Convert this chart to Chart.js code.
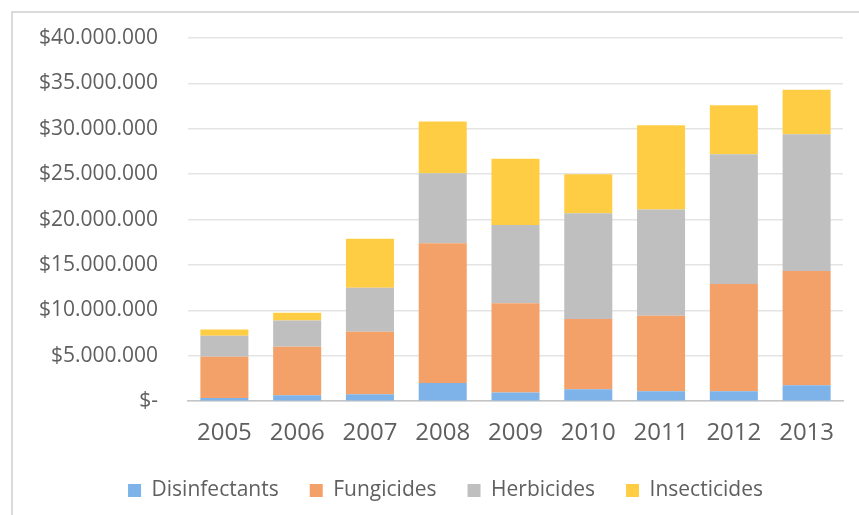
<!DOCTYPE html>
<html>
<head>
<meta charset="utf-8">
<script src="https://cdn.jsdelivr.net/npm/chart.js@4"></script>
<style>
  body { margin: 0; background: #fff; }
  #frame { position: absolute; left: 11px; top: 11px; width: 860px; height: 520px;
           border-top: 2px solid #dadada; border-left: 2px solid #dadada; }
  #wrap { position: absolute; left: 0; top: 0; width: 859px; height: 515px; }
</style>
</head>
<body>
<div id="frame"></div>
<div id="wrap"><canvas id="chart"></canvas></div>
<script>
var years = ["2005", "2006", "2007", "2008", "2009", "2010", "2011", "2012", "2013"];
var disinfectants = [350000, 660000, 770000, 2000000, 960000, 1320000, 1100000, 1100000, 1770000];
var fungicides = [4550000, 5340000, 6880000, 15400000, 9840000, 7730000, 8300000, 11800000, 12580000];
var herbicides = [2300000, 2900000, 4850000, 7700000, 8600000, 11650000, 11700000, 14300000, 15050000];
var insecticides = [700000, 850000, 5400000, 5700000, 7300000, 4300000, 9300000, 5400000, 4900000];

var textColor = "#5f5f5f";

function money(v) {
    if (v === 0) return "$-";
    return "$" + v.toString().replace(/\B(?=(\d{3})+(?!\d))/g, ".");
}

function series(label, data, color) {
    return {
        label: label,
        data: data,
        backgroundColor: color,
        borderWidth: 0,
        categoryPercentage: 1,
        barPercentage: 0.66
    };
}

// legend sits closer to the axis labels than its padding allows, and a bit right of centre
var moveLegend = {
    id: "moveLegend",
    afterLayout: function (chart) {
        chart.legend.top -= 17;
        chart.legend.bottom -= 17;
        chart.legend.left += 24;
        chart.legend.right += 24;
    }
};

var ctx = document.getElementById("chart").getContext("2d");
new Chart(ctx, {
    type: "bar",
    data: {
        labels: years,
        datasets: [
            series("Disinfectants", disinfectants, "#7db3e8"),
            series("Fungicides", fungicides, "#f3a168"),
            series("Herbicides", herbicides, "#bfbfbf"),
            series("Insecticides", insecticides, "#ffcd44")
        ]
    },
    plugins: [moveLegend],
    options: {
        responsive: true,
        maintainAspectRatio: false,
        animation: false,
        layout: { padding: { left: 0, right: 16, top: 38, bottom: -13 } },
        plugins: {
            tooltip: { enabled: false },
            legend: {
                position: "bottom",
                labels: {
                    color: textColor,
                    font: { family: "Open Sans", size: 21 },
                    boxWidth: 13,
                    boxHeight: 13,
                    padding: 31
                }
            }
        },
        scales: {
            x: {
                stacked: true,
                grid: { display: false, drawTicks: false },
                border: { color: "#c4c4c4", width: 1.5 },
                ticks: {
                    color: textColor,
                    font: { family: "Open Sans", size: 24 },
                    padding: 18
                }
            },
            y: {
                stacked: true,
                min: 0,
                max: 40000000,
                grid: { color: "#e4e4e4", lineWidth: 1.5, drawTicks: false },
                border: { display: false },
                ticks: {
                    stepSize: 5000000,
                    color: textColor,
                    font: { family: "Open Sans", size: 21 },
                    padding: 30,
                    callback: function (v) { return money(v); }
                },
                afterFit: function (scale) {
                    scale.width = 188;
                    scale.paddingTop = 0;
                }
            }
        }
    }
});
</script>
</body>
</html>
